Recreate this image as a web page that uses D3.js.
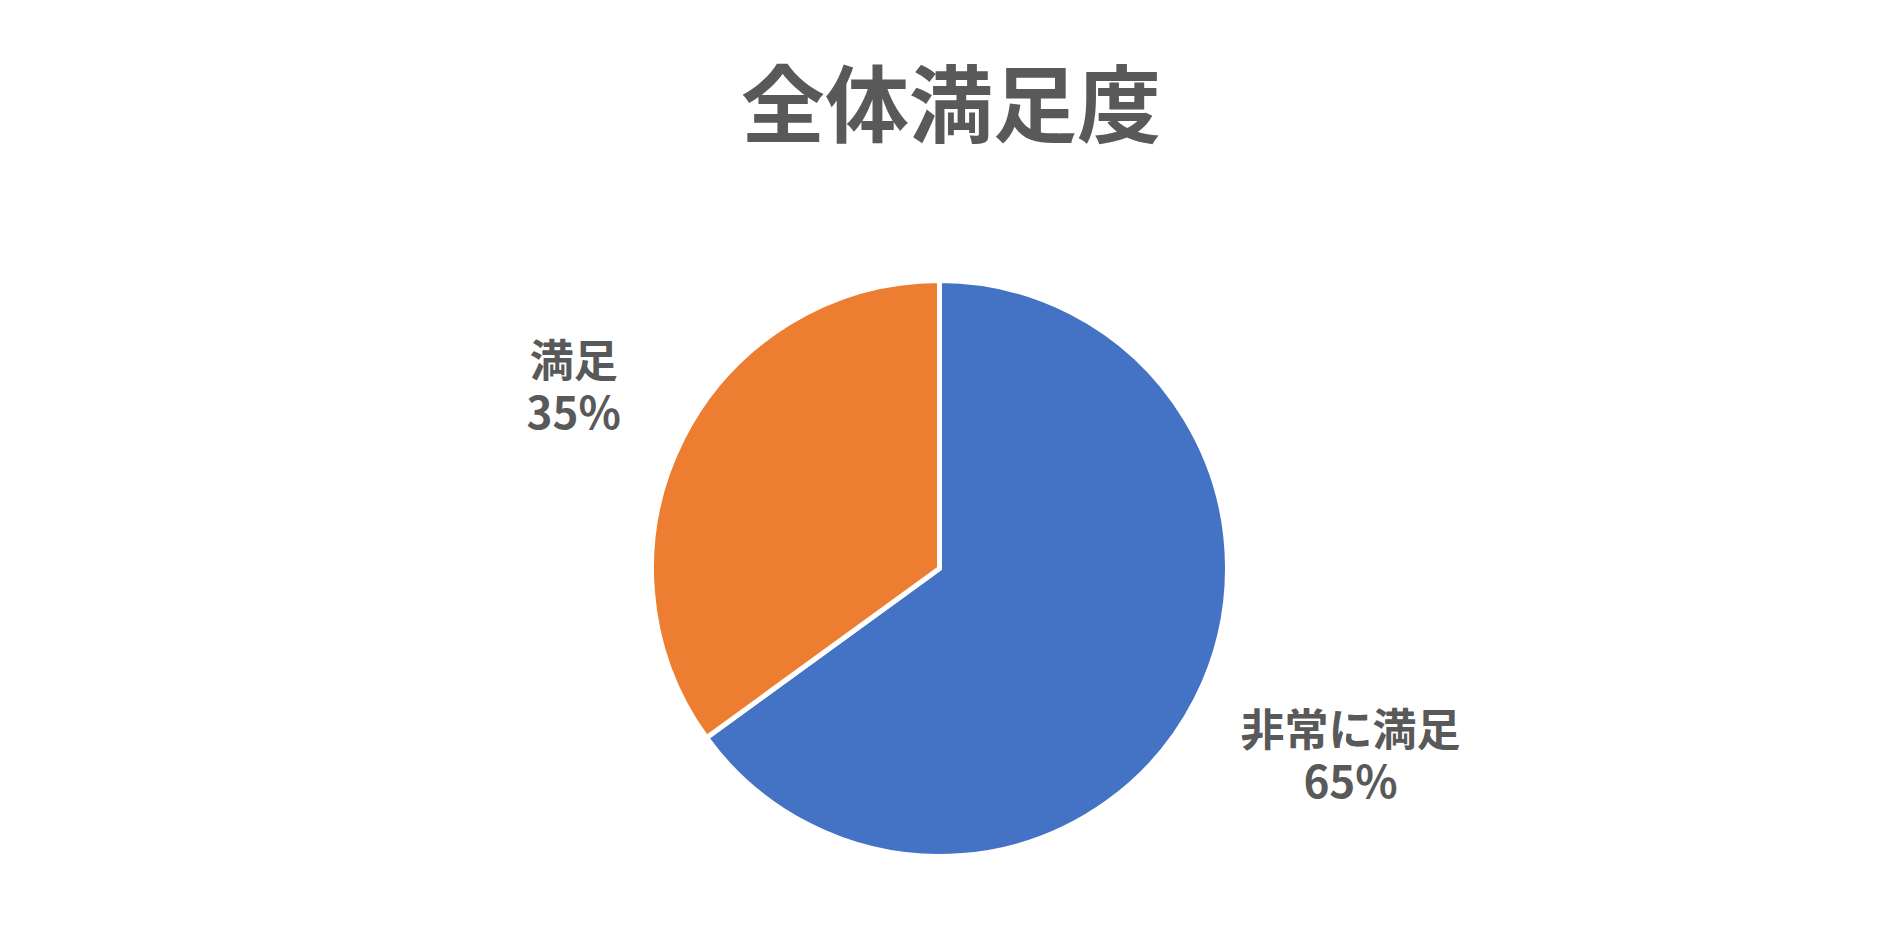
<!DOCTYPE html>
<html>
	<head>
		<meta charset="utf-8">
		<script src="https://d3js.org/d3.v7.min.js"></script>
		<style>
			body {
				margin: 0;
				background-color: white;
			}

			svg {
				display: block;
			}

			text {
				font-family: "Noto Sans CJK JP", "Noto Sans", sans-serif;
				fill: #595959;
				font-weight: bold;
			}
		</style>
	</head>
	<body>
		<svg id="chart"></svg>
		<script>
			var title = "全体満足度"
			var categories = ["非常に満足", "満足"]
			var values = [65, 35]
			var colors = ["#4472C4", "#ED7D31"]

			var width = 1891
			var height = 935
			var cx = 939.5
			var cy = 568.5
			var radius = 288
			var lineGap = 52

			var svg = d3.select("#chart")
				.attr("width", width)
				.attr("height", height)

			svg.append("text")
				.attr("x", 951)
				.attr("y", 99)
				.attr("text-anchor", "middle")
				.attr("dominant-baseline", "central")
				.attr("font-size", 84)
				.text(title)

			var pie = d3.pie().sort(null).value(d => d)
			var arcs = pie(values)
			var arc = d3.arc().innerRadius(0).outerRadius(radius)
			var labelArc = d3.arc().innerRadius(radius * 1.41).outerRadius(radius * 1.41)

			var g = svg.append("g").attr("transform", "translate(" + cx + "," + cy + ")")

			g.selectAll("path")
				.data(arcs)
				.enter()
				.append("path")
				.attr("d", arc)
				.attr("fill", (d, i) => colors[i])
				.attr("stroke", "white")
				.attr("stroke-width", 5)
				.attr("stroke-linejoin", "round")

			var total = d3.sum(values)

			arcs.forEach((d, i) => {
				var lines = [categories[i], Math.round(d.value / total * 100) + "%"]
				var label = g.append("text")
					.attr("text-anchor", "middle")
					.attr("font-size", 44)

				label.selectAll("tspan")
					.data(lines)
					.enter()
					.append("tspan")
					.attr("x", 0)
					.attr("y", (t, j) => (j - 0.5) * lineGap)
					.attr("dominant-baseline", "central")
					.text(t => t)

				// wider labels are pushed further out, as the spreadsheet does
				var p = labelArc.centroid(d)
				var w = label.node().getBBox().width
				var tx = p[0] + Math.sign(p[0]) * (0.72 * w / 2 - 30)
				label.attr("transform", "translate(" + tx + "," + p[1] + ")")
			})
		</script>
	</body>
</html>
